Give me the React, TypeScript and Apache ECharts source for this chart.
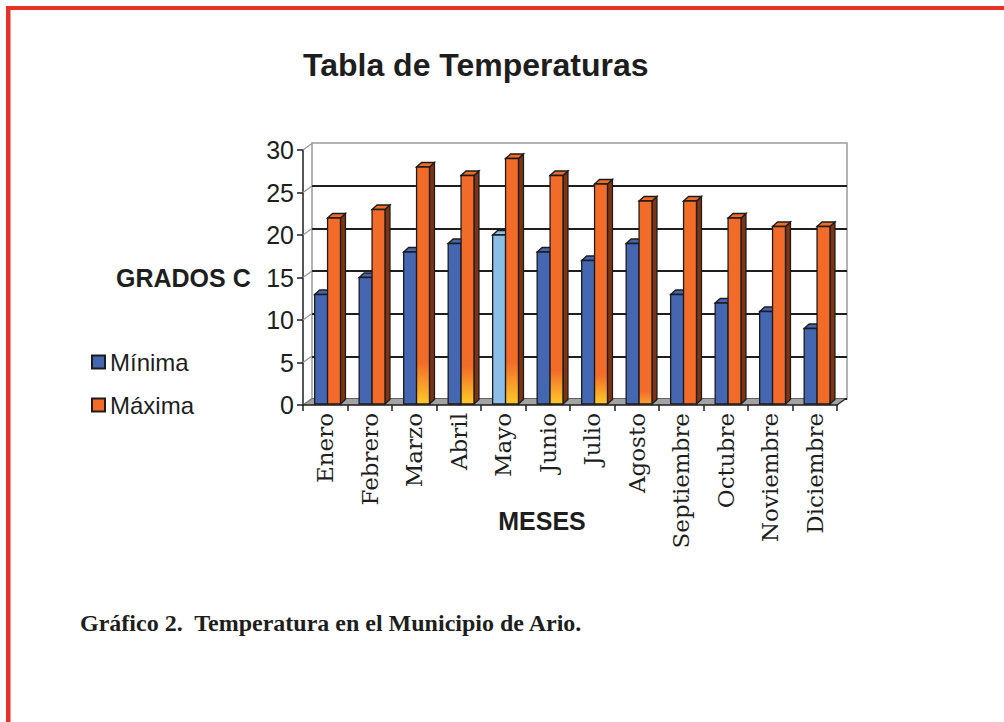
import React, { useEffect, useRef } from "react";
import * as echarts from "echarts";

const title = "Tabla de Temperaturas";
const months = ["Enero", "Febrero", "Marzo", "Abril", "Mayo", "Junio", "Julio", "Agosto", "Septiembre", "Octubre", "Noviembre", "Diciembre"];
const minima = [13, 15, 18, 19, 20, 18, 17, 19, 13, 12, 11, 9];
const maxima = [22, 23, 28, 27, 29, 27, 26, 24, 24, 22, 21, 21];
const seriesNames = ["Mínima", "Máxima"];
const yTicks = [0, 5, 10, 15, 20, 25, 30];
const yAxisName = "GRADOS C";
const xAxisName = "MESES";
const caption = "Gráfico 2.  Temperatura en el Municipio de Ario.";

// styling helpers (not data)
const glow = [0, 0, 1, 0.9, 1, 0.8, 0.7, 0.3, 0, 0, 0, 0];
const highlightIndex = 4;
const DX = 9;
const DY = -6.5;
const BD = 5;
const BDY = -4.5;

const SANS = "'Liberation Sans', Arial, Helvetica, sans-serif";
const SERIF = "'DejaVu Serif', serif";

function barRenderer(s: number) {
  return (params: any, api: any) => {
    const i = api.value(0);
    const v = api.value(1);
    const top = api.coord([i, v]);
    const base = api.coord([i, 0]);
    const bw = api.size([1, 0])[0];
    const w = bw * 0.29;
    const x0 = base[0] - bw / 2 + bw * (0.262 + s * 0.29);
    const x1 = x0 + w;
    const yt = top[1];
    const yb = base[1] - 1;
    const h = Math.max(1, yb - yt);
    let front: any;
    let side: string;
    let topc: string;
    if (s === 0) {
      const hi = i === highlightIndex;
      front = hi ? "#8cbfe7" : "#4566b0";
      side = hi ? "#4f7fb5" : "#27397a";
      topc = hi ? "#8cbfe7" : "#4566b0";
    } else {
      const g = glow[i];
      if (g > 0) {
        const gp = Math.min(0.9, (42 * g) / h);
        front = new echarts.graphic.LinearGradient(0, 0, 0, 1, [
          { offset: 0, color: "#f26b29" },
          { offset: 1 - gp, color: "#f26b29" },
          { offset: 1, color: g > 0.6 ? "#ffc928" : "#f9a032" },
        ]);
      } else {
        front = "#f26b29";
      }
      side = "#7e3412";
      topc = "#f26b29";
    }
    const stroke = { stroke: "#1c1c1c", lineWidth: 1.3 };
    return {
      type: "group",
      children: [
        {
          type: "polygon",
          shape: { points: [[x1, yt], [x1 + BD, yt + BDY], [x1 + BD, yb + BDY], [x1, yb]] },
          style: { fill: side, ...stroke },
        },
        {
          type: "polygon",
          shape: { points: [[x0, yt], [x0 + BD, yt + BDY], [x1 + BD, yt + BDY], [x1, yt]] },
          style: { fill: topc, ...stroke },
        },
        {
          type: "rect",
          shape: { x: x0, y: yt, width: w, height: h },
          style: { fill: front, ...stroke },
        },
      ],
    };
  };
}

function frameRenderer(params: any, api: any) {
  const v = api.value(1);
  const bw = api.size([1, 0])[0];
  const p = api.coord([0, v]);
  const left = p[0] - bw / 2;
  const y = p[1];
  const children: any[] = [];
  if (v === 0) {
    const right = api.coord([months.length - 1, 0])[0] + bw / 2;
    children.push({
      type: "polygon",
      shape: { points: [[left, y], [right, y], [right + DX, y + DY], [left + DX, y + DY]] },
      style: { fill: "#a3a3a3", stroke: "none" },
    });
    children.push({
      type: "line",
      shape: { x1: right, y1: y, x2: right + DX, y2: y + DY },
      style: { stroke: "#222", lineWidth: 1.3 },
    });
  }
  children.push({
    type: "line",
    shape: { x1: left, y1: y, x2: left + DX, y2: y + DY },
    style: { stroke: v === 0 ? "#777" : "#9a9a9a", lineWidth: 1.3 },
  });
  return { type: "group", children };
}

export default function App() {
  const ref = useRef<HTMLDivElement>(null);
  useEffect(() => {
    if (!ref.current) return;
    const chart = echarts.init(ref.current, null, { renderer: "svg" });
    const option: any = {
      animation: false,
      backgroundColor: "#ffffff",
      title: {
        text: title,
        left: 303,
        top: 49,
        padding: 0,
        textStyle: { fontFamily: SANS, fontWeight: "bold", fontSize: 32, color: "#1e1e1e" },
      },
      legend: {
        orient: "vertical",
        left: 86,
        top: 344,
        itemWidth: 13,
        itemHeight: 13,
        itemGap: 17,
        icon: "rect",
        data: seriesNames,
        textStyle: { fontFamily: SANS, fontSize: 24, color: "#1e1e1e", lineHeight: 26, padding: [0, 0, 0, 0] },
      },
      grid: [
        { left: 303, right: 167, top: 150, bottom: 317, show: false },
        { left: 312, right: 157, top: 143, bottom: 323, show: true, borderColor: "#9c9c9c", borderWidth: 1.5, backgroundColor: "transparent" },
      ],
      xAxis: [
        {
          type: "category",
          gridIndex: 0,
          data: months,
          boundaryGap: true,
          axisLine: { show: true, lineStyle: { color: "#1e1e1e", width: 1.5 } },
          axisTick: { show: true, length: 6, lineStyle: { color: "#1e1e1e", width: 1.5 } },
          axisLabel: { rotate: 90, margin: 8, fontFamily: SERIF, fontSize: 23, color: "#1e1e1e" },
          splitLine: { show: false },
          z: 5,
        },
        {
          type: "category",
          gridIndex: 1,
          data: months,
          show: false,
        },
      ],
      yAxis: [
        {
          type: "value",
          gridIndex: 0,
          min: 0,
          max: 30,
          interval: 5,
          axisLine: { show: true, lineStyle: { color: "#1e1e1e", width: 1.5 } },
          axisTick: { show: true, length: 6, lineStyle: { color: "#1e1e1e", width: 1.5 } },
          axisLabel: { margin: 9, fontFamily: SANS, fontSize: 25, color: "#1e1e1e" },
          splitLine: { show: false },
        },
        {
          type: "value",
          gridIndex: 1,
          min: 0,
          max: 30,
          interval: 5,
          axisLine: { show: false },
          axisTick: { show: false },
          axisLabel: { show: false },
          splitLine: { show: true, showMaxLine: false, lineStyle: { color: "#1e1e1e", width: 1.8 } },
        },
      ],
      series: [
        {
          type: "custom",
          name: "frame",
          xAxisIndex: 0,
          yAxisIndex: 0,
          data: yTicks.map((v) => [0, v]),
          renderItem: frameRenderer,
          clip: false,
          silent: true,
          z: 1,
        },
        {
          type: "custom",
          name: seriesNames[0],
          xAxisIndex: 0,
          yAxisIndex: 0,
          data: minima.map((v, i) => [i, v]),
          renderItem: barRenderer(0),
          itemStyle: { color: "#4566b0", borderColor: "#1c1c1c", borderWidth: 1.2 },
          clip: false,
          z: 3,
        },
        {
          type: "custom",
          name: seriesNames[1],
          xAxisIndex: 0,
          yAxisIndex: 0,
          data: maxima.map((v, i) => [i, v]),
          renderItem: barRenderer(1),
          itemStyle: { color: "#f26b29", borderColor: "#1c1c1c", borderWidth: 1.2 },
          clip: false,
          z: 4,
        },
      ],
      graphic: [
        { type: "rect", shape: { x: 6, y: 6, width: 998, height: 4 }, style: { fill: "#e8302b" } },
        { type: "rect", shape: { x: 6, y: 6, width: 4.5, height: 716 }, style: { fill: "#e8302b" } },
        {
          type: "text",
          x: 116,
          y: 278,
          style: { text: yAxisName, fontFamily: SANS, fontWeight: "bold", fontSize: 25, fill: "#1e1e1e", verticalAlign: "middle", align: "left" },
        },
        {
          type: "text",
          x: 542,
          y: 521,
          style: { text: xAxisName, fontFamily: SANS, fontWeight: "bold", fontSize: 25, fill: "#1e1e1e", verticalAlign: "middle", align: "center" },
        },
        {
          type: "text",
          x: 80,
          y: 623,
          style: { text: caption, fontFamily: "'Liberation Serif', 'Times New Roman', serif", fontWeight: "bold", fontSize: 24, fill: "#1e1e1e", verticalAlign: "middle", align: "left" },
        },
      ],
    };
    chart.setOption(option);
    return () => chart.dispose();
  }, []);
  return (
    <div
      ref={ref}
      style={{ position: "absolute", left: 0, top: 0, width: 1004, height: 722, background: "#fff" }}
    />
  );
}
